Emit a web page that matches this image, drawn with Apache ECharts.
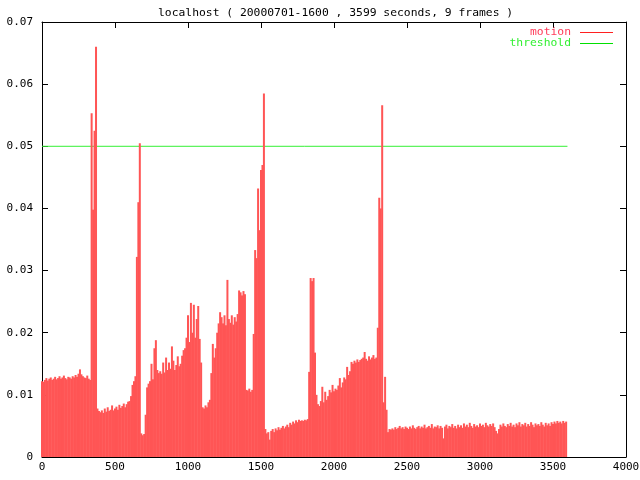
<!DOCTYPE html>
<html>
<head>
<meta charset="utf-8">
<script src="https://cdn.jsdelivr.net/npm/echarts@6/dist/echarts.min.js"></script>
<style>html,body{margin:0;padding:0;background:#fff}#c{width:640px;height:480px}</style>
</head>
<body>
<div id="c"></div>
<script>
const titleText = 'localhost ( 20000701-1600 , 3599 seconds, 9 frames )';
const seriesNames = ['motion', 'threshold'];
const sampleStep = 10; // seconds between samples
const thresholdValue = 0.05;
const thresholdSpan = [0, 3599];
const xTicks = [0, 500, 1000, 1500, 2000, 2500, 3000, 3500, 4000];
const yTicks = [0, 0.01, 0.02, 0.03, 0.04, 0.05, 0.06, 0.07];
const motion = [
  0.0122,0.0121,0.0124,0.0127,0.0123,0.0126,0.0128,0.0124,0.0126,0.0129,
  0.0125,0.0127,0.0130,0.0126,0.0128,0.0131,0.0127,0.0125,0.0129,0.0128,
  0.0126,0.0130,0.0128,0.0132,0.0129,0.0134,0.0141,0.0133,0.0130,0.0128,
  0.0127,0.0131,0.0126,0.0124,0.0553,0.0398,0.0525,0.0660,0.0078,0.0074,
  0.0072,0.0075,0.0071,0.0078,0.0073,0.0080,0.0074,0.0076,0.0083,0.0075,
  0.0078,0.0081,0.0076,0.0084,0.0079,0.0082,0.0086,0.0080,0.0085,0.0089,
  0.0090,0.0098,0.0116,0.0122,0.0130,0.0322,0.0410,0.0505,0.0038,0.0035,
  0.0037,0.0068,0.0112,0.0118,0.0122,0.0150,0.0125,0.0175,0.0188,0.0140,
  0.0135,0.0138,0.0134,0.0152,0.0136,0.0160,0.0140,0.0152,0.0142,0.0178,
  0.0155,0.0140,0.0148,0.0162,0.0146,0.0150,0.0163,0.0172,0.0175,0.0192,
  0.0228,0.0185,0.0248,0.0200,0.0245,0.0192,0.0222,0.0243,0.0190,0.0152,
  0.0080,0.0078,0.0083,0.0080,0.0088,0.0092,0.0135,0.0182,0.0160,0.0175,
  0.0200,0.0215,0.0233,0.0225,0.0215,0.0228,0.0212,0.0285,0.0222,0.0216,
  0.0228,0.0213,0.0225,0.0218,0.0230,0.0268,0.0265,0.0260,0.0267,0.0262,
  0.0108,0.0107,0.0110,0.0105,0.0108,0.0198,0.0333,0.0320,0.0432,0.0365,
  0.0462,0.0470,0.0585,0.0045,0.0038,0.0040,0.0028,0.0042,0.0045,0.0040,
  0.0046,0.0043,0.0048,0.0044,0.0047,0.0050,0.0046,0.0049,0.0052,0.0048,
  0.0055,0.0052,0.0057,0.0054,0.0059,0.0056,0.0060,0.0058,0.0059,0.0058,
  0.0060,0.0059,0.0061,0.0137,0.0288,0.0283,0.0288,0.0168,0.0100,0.0085,
  0.0082,0.0090,0.0113,0.0088,0.0105,0.0092,0.0098,0.0108,0.0104,0.0116,
  0.0106,0.0110,0.0108,0.0115,0.0127,0.0112,0.0120,0.0128,0.0125,0.0145,
  0.0132,0.0138,0.0153,0.0150,0.0155,0.0152,0.0157,0.0153,0.0156,0.0158,
  0.0160,0.0169,0.0158,0.0155,0.0162,0.0157,0.0160,0.0164,0.0158,0.0160,
  0.0208,0.0417,0.0400,0.0566,0.0088,0.0129,0.0076,0.0040,0.0045,0.0044,
  0.0046,0.0044,0.0048,0.0045,0.0047,0.0050,0.0046,0.0048,0.0045,0.0049,
  0.0047,0.0045,0.0049,0.0046,0.0051,0.0047,0.0045,0.0048,0.0050,0.0046,
  0.0049,0.0047,0.0052,0.0046,0.0048,0.0050,0.0047,0.0053,0.0046,0.0049,
  0.0048,0.0051,0.0046,0.0050,0.0047,0.0030,0.0049,0.0052,0.0046,0.0050,
  0.0048,0.0053,0.0047,0.0050,0.0046,0.0052,0.0048,0.0051,0.0047,0.0054,
  0.0049,0.0052,0.0048,0.0055,0.0050,0.0047,0.0053,0.0049,0.0051,0.0048,
  0.0054,0.0050,0.0052,0.0048,0.0055,0.0051,0.0049,0.0053,0.0050,0.0054,
  0.0048,0.0042,0.0038,0.0045,0.0052,0.0049,0.0054,0.0050,0.0048,0.0053,
  0.0050,0.0055,0.0049,0.0052,0.0048,0.0054,0.0051,0.0056,0.0049,0.0053,
  0.0051,0.0055,0.0049,0.0053,0.0050,0.0056,0.0052,0.0048,0.0054,0.0051,
  0.0053,0.0050,0.0056,0.0052,0.0049,0.0055,0.0051,0.0054,0.0050,0.0056,
  0.0053,0.0057,0.0054,0.0058,0.0055,0.0057,0.0054,0.0058,0.0055,0.0057
];

const FONT = 'DejaVu Sans Mono';
const RED = '#ff5555';
const GREEN = '#33f033';
const motionData = motion.map((v, i) => [i * sampleStep, v]);
const thresholdData = thresholdSpan.map(t => [t, thresholdValue]);

const chart = echarts.init(document.getElementById('c'), null, {renderer: 'canvas'});
const lbl = {fontFamily: FONT, fontSize: 11, color: '#000'};
const baseAxis = {
  type: 'value', splitLine: {show: false},
  axisLine: {show: true, onZero: false, lineStyle: {color: '#000', width: 1}},
  axisTick: {show: true, inside: true, length: 6, lineStyle: {color: '#000'}}
};
chart.setOption({
  animation: false,
  backgroundColor: '#fff',
  title: {
    text: titleText, left: 153, top: 3,
    textStyle: {fontFamily: FONT, fontSize: 11.35, fontWeight: 'normal', color: '#000'}
  },
  legend: {
    right: 27, top: 27, padding: 0, orient: 'vertical', align: 'right',
    itemWidth: 33, itemHeight: 1, itemGap: 0, icon: 'rect',
    textStyle: {fontFamily: FONT, fontSize: 11.35, lineHeight: 11, padding: [0, 4, 0, 0]},
    data: [
      {name: seriesNames[0], textStyle: {color: '#ff3c5a'}, itemStyle: {color: '#ff2020'}},
      {name: seriesNames[1], textStyle: {color: GREEN}, itemStyle: {color: '#00e000'}}
    ]
  },
  grid: {left: 42, right: 14, top: 22, bottom: 23, containLabel: false, outerBoundsMode: 'none'},
  xAxis: [
    Object.assign({}, baseAxis, {
      position: 'bottom', min: xTicks[0], max: xTicks[xTicks.length - 1], interval: 500,
      axisLabel: Object.assign({margin: 5, formatter: v => String(v)}, lbl)
    }),
    Object.assign({}, baseAxis, {
      position: 'top', min: xTicks[0], max: xTicks[xTicks.length - 1], interval: 500,
      axisLabel: {show: false}
    })
  ],
  yAxis: [
    Object.assign({}, baseAxis, {
      position: 'left', min: yTicks[0], max: yTicks[yTicks.length - 1], interval: 0.01,
      axisLabel: Object.assign({margin: 9, formatter: v => v === 0 ? '0' : v.toFixed(2)}, lbl)
    }),
    Object.assign({}, baseAxis, {
      position: 'right', min: yTicks[0], max: yTicks[yTicks.length - 1], interval: 0.01,
      axisLabel: {show: false}
    })
  ],
  series: [
    {
      name: seriesNames[0], type: 'bar', data: motionData, barWidth: 2,
      itemStyle: {color: RED}, z: 3, silent: true
    },
    {
      name: seriesNames[1], type: 'line', data: thresholdData, showSymbol: false,
      lineStyle: {color: GREEN, width: 1}, itemStyle: {color: GREEN}, z: 2, silent: true
    }
  ]
});
</script>
</body>
</html>
